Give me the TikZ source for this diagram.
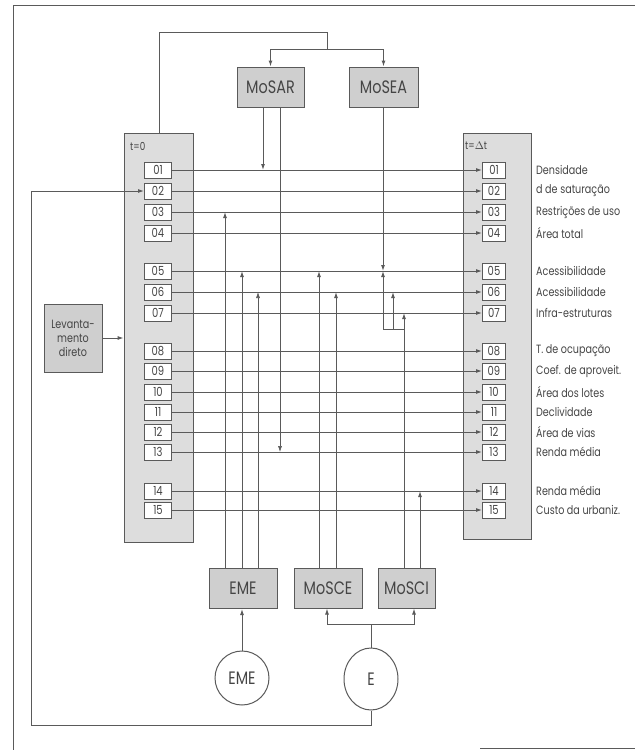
\documentclass[tikz,border=0pt]{standalone}
\usepackage{fontspec}
\setmainfont{Poppins}[FakeStretch=0.8]
\usetikzlibrary{arrows.meta,shapes.geometric}
\definecolor{lc}{HTML}{5A5A5A}
\definecolor{tc}{HTML}{454545}
\definecolor{panelfill}{HTML}{DDDDDD}
\definecolor{modfill}{HTML}{CFCFCF}
\begin{document}
\begin{tikzpicture}[x=1pt,y=-1pt,
  ln/.style={draw=lc,line width=1pt},
  lnthin/.style={draw=lc,line width=0.6pt},
  arr/.style={ln,-{Latex[length=6pt,width=4pt]}},
  arrthin/.style={lnthin,-{Latex[length=6pt,width=4pt]}},
  numbox/.style={draw=lc,line width=0.9pt,fill=white,minimum width=27pt,minimum height=16pt,inner sep=0pt,text=tc,font=\fontsize{12.5}{12.5}\selectfont},
  rnumbox/.style={numbox,minimum width=23pt},
  panel/.style={draw=lc,line width=0.8pt,fill=panelfill,inner sep=0pt},
  modbox/.style={draw=lc,line width=1pt,fill=modfill,inner sep=0pt,minimum height=40pt,text=tc,font=\fontsize{18}{18}\selectfont},
  lab/.style={anchor=west,inner sep=0pt,text=tc,font=\fontsize{12}{12}\selectfont},
  circ/.style={draw=lc,line width=1pt,fill=white,inner sep=0pt,text=tc,font=\fontsize{18}{18}\selectfont}
]
\useasboundingbox (0,0) rectangle (635,750);
% frame
\draw[ln] (13,750) -- (13,5) -- (635,5);
\draw[ln] (480,748.5) -- (635,748.5);

% panels
\node[panel,minimum width=69pt,minimum height=409pt] (P0) at (158.5,337.5) {};
\node[panel,minimum width=68pt,minimum height=406pt] (P1) at (497,336) {};
\node[anchor=west,inner sep=0pt,text=tc,font=\fontsize{11}{11}\selectfont] (t0) at (130,146) {t=0};
\node[anchor=west,inner sep=0pt,text=tc,font=\fontsize{11}{11}\selectfont] (t1) at (465,146) {t=$\Delta$t};

% number boxes
\foreach \n/\y in {1/170,2/191,3/212,4/233,5/271,6/292,7/313,8/351,9/371,10/392,11/412,12/432,13/452,14/491,15/510}{
  \ifnum\n<10
    \node[numbox] (L\n) at (158,\y) {0\n};
    \node[rnumbox] (R\n) at (494,\y) {0\n};
  \else
    \node[numbox] (L\n) at (158,\y) {\n};
    \node[rnumbox] (R\n) at (494,\y) {\n};
  \fi
  \draw[arr] (L\n.east) -- (R\n.west);
}

% labels
\node[lab] (a1) at (536,170) {Densidade};
\node[lab] (a2) at (536,191) {d de saturação};
\node[lab] (a3) at (536,212) {Restrições de uso};
\node[lab] (a4) at (536,233) {Área total};
\node[lab] (a5) at (536,271) {Acessibilidade};
\node[lab] (a6) at (536,292) {Acessibilidade};
\node[lab] (a7) at (536,313) {Infra-estruturas};
\node[lab] (a8) at (536,351) {T. de ocupação};
\node[lab] (a9) at (536,371) {Coef. de aproveit.};
\node[lab] (a10) at (536,392) {Área dos lotes};
\node[lab] (a11) at (536,412) {Declividade};
\node[lab] (a12) at (536,432) {Área de vias};
\node[lab] (a13) at (536,452) {Renda média};
\node[lab] (a14) at (536,491) {Renda média};
\node[lab] (a15) at (536,510) {Custo da urbaniz.};

% module boxes
\node[modbox,minimum width=67pt] (MoSAR) at (270.5,87) {MoSAR};
\node[modbox,minimum width=69pt] (MoSEA) at (383.5,87) {MoSEA};
\node[modbox,minimum width=68pt] (EME) at (243,588.5) {EME};
\node[modbox,minimum width=68pt] (MoSCE) at (328,588) {MoSCE};
\node[modbox,minimum width=57pt] (MoSCI) at (406.5,588) {MoSCI};
\node[modbox,minimum width=58pt,minimum height=68pt,align=center,font=\fontsize{12}{14}\selectfont] (Lev) at (73,338) {Levanta-\\mento\\direto};
\node[circ,circle,minimum size=54pt] (cEME) at (242,678) {EME};
\node[circ,ellipse,minimum width=54pt,minimum height=62pt] (cE) at (371,679) {E};

% top loop
\coordinate (top1) at (159,32);
\coordinate (jn) at (327,32);
\coordinate (sp) at (327,49);
\draw[ln] (P0.north -| top1) -- (top1) -- (jn) -- (sp);
\draw[arr] (sp) -| (MoSAR.north);
\draw[arr] (sp) -| (MoSEA.north);

% MoSAR / MoSEA outputs
\draw[arr] (MoSAR.south -| 263,0) -- (263,0 |- L1);
\draw[arrthin] (MoSAR.south -| 280,0) -- (280,0 |- L13);
\draw[arr] (MoSEA.south -| 383,0) -- (383,0 |- L5);

% MoSCI outputs
\coordinate (k1) at (383,329);
\coordinate (k2) at (393,329);
\coordinate (k3) at (404,329);
\draw[arr] (MoSCI.north -| k3) -- (k3 |- L7);
\draw[ln] (k1) -- (k3);
\draw[arr] (k1) -- (k1 |- L5);
\draw[arr] (k2) -- (k2 |- L6);
\draw[arr] (MoSCI.north -| 420,0) -- (420,0 |- L14);

% EME outputs
\draw[arr] (EME.north -| 225,0) -- (225,0 |- L3);
\draw[arr] (EME.north -| 242,0) -- (242,0 |- L5);
\draw[arrthin] (EME.north -| 258,0) -- (258,0 |- L6);

% MoSCE outputs
\draw[arr] (MoSCE.north -| 319,0) -- (319,0 |- L5);
\draw[arr] (MoSCE.north -| 336,0) -- (336,0 |- L6);

% circles
\draw[arr] (cEME.north) -- (cEME.north |- EME.south);
\coordinate (es) at (371,624);
\draw[ln] (cE.north) -- (es);
\draw[arr] (es) -| (MoSCE.south -| 327,0);
\draw[arr] (es) -| (MoSCI.south -| 414,0);

% feedback
\coordinate (fb1) at (371,725);
\coordinate (fb2) at (31,725);
\coordinate (fb3) at (31,191);
\draw[arr] (cE.south) -- (fb1) -- (fb2) -- (fb3) -- (L2.west);

% levantamento
\draw[arr] (Lev.east) -- (Lev.east -| P0.west);
\end{tikzpicture}
\end{document}
